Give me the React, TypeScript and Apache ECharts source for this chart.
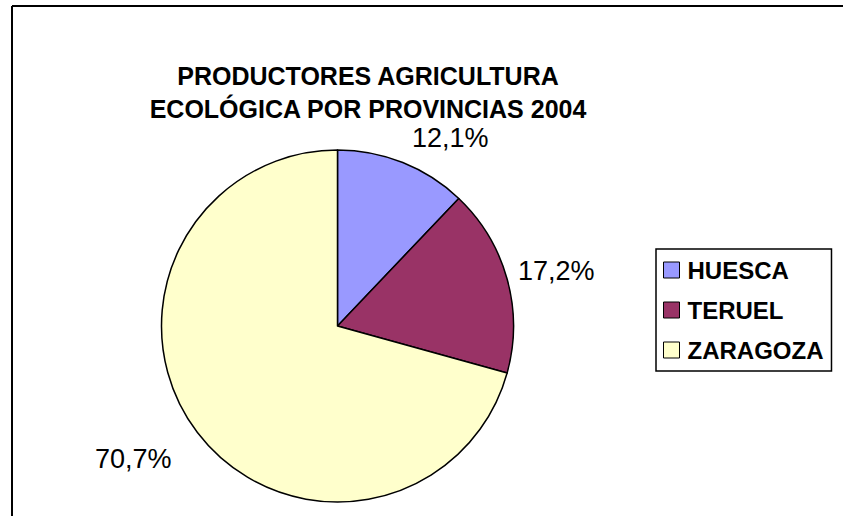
import React, { useEffect, useRef } from "react";
import * as echarts from "echarts";

const titleLines = ["PRODUCTORES AGRICULTURA", "ECOLÓGICA POR PROVINCIAS 2004"];
const provinces = ["HUESCA", "TERUEL", "ZARAGOZA"];
const shares = [12.1, 17.2, 70.7];
const colors = ["#9999FF", "#993366", "#FFFFCC"];
const labelShift = [
  { dx: -2, dy: 3 },
  { dx: -18, dy: 0 },
  { dx: -2, dy: 8 },
];

const FONT = "'Liberation Sans', Arial, sans-serif";

export default function App() {
  const ref = useRef<HTMLDivElement>(null);
  useEffect(() => {
    document.body.style.margin = "0";
    const chart = echarts.init(ref.current!, null, { renderer: "svg" });
    chart.setOption({
      animation: false,
      backgroundColor: "#ffffff",
      title: {
        text: titleLines.join("\n"),
        left: 368,
        top: 59,
        textAlign: "center",
        padding: 0,
        textStyle: {
          fontFamily: FONT,
          fontSize: 25,
          fontWeight: "bold",
          color: "#000",
          lineHeight: 33,
        },
      },
      legend: {
        orient: "vertical",
        left: 656,
        top: 249,
        width: 175,
        padding: [9, 8, 9, 7],
        itemGap: 16,
        itemWidth: 16,
        itemHeight: 16,
        borderColor: "#000",
        borderWidth: 1.5,
        icon: "rect",
        itemStyle: { borderColor: "#000", borderWidth: 1 },
        textStyle: {
          fontFamily: FONT,
          fontSize: 24,
          fontWeight: "bold",
          color: "#000",
          lineHeight: 24,
          padding: [0, 0, 0, 3],
        },
        data: provinces,
      },
      graphic: [
        { type: "line", shape: { x1: 12, y1: 6, x2: 843, y2: 6 }, style: { stroke: "#000", lineWidth: 2 } },
        { type: "line", shape: { x1: 12, y1: 6, x2: 12, y2: 516 }, style: { stroke: "#000", lineWidth: 2 } },
      ],
      series: [
        {
          type: "pie",
          center: [337.5, 326],
          radius: 176,
          startAngle: 90,
          clockwise: true,
          avoidLabelOverlap: false,
          itemStyle: { borderColor: "#000", borderWidth: 1.5 },
          emphasis: { disabled: true },
          label: {
            show: true,
            position: "outside",
            fontFamily: FONT,
            fontSize: 27,
            lineHeight: 23,
            color: "#000",
            distanceToLabelLine: 0,
            formatter: (p: any) => p.value.toFixed(1).replace(".", ",") + "%",
          },
          labelLine: { show: false, length: 30, length2: 0 },
          labelLayout: (p: any) => labelShift[p.dataIndex],
          data: provinces.map((name, i) => ({
            name,
            value: shares[i],
            itemStyle: { color: colors[i] },
          })),
        },
      ],
    });
    return () => chart.dispose();
  }, []);
  return <div ref={ref} style={{ width: 843, height: 516 }} />;
}
